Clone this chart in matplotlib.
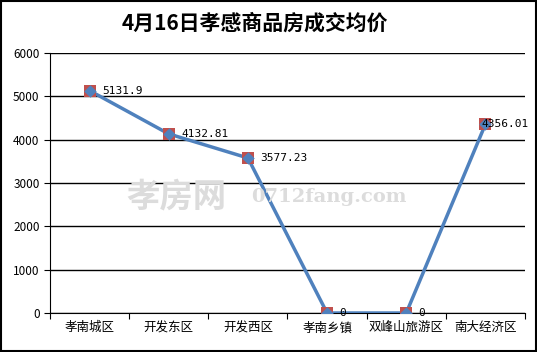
import matplotlib
matplotlib.use("Agg")
import matplotlib.pyplot as plt
from matplotlib.patches import Rectangle

plt.rcParams["font.family"] = ["Noto Sans CJK SC", "DejaVu Sans"]

# ── data ──────────────────────────────────────────────────────────────────────
districts = ["孝南城区", "开发东区", "开发西区", "孝南乡镇", "双峰山旅游区", "南大经济区"]
prices = [5131.9, 4132.81, 3577.23, 0, 0, 4356.01]
price_labels = ["5131.9", "4132.81", "3577.23", "0", "0", "4356.01"]
y_ticks = [0, 1000, 2000, 3000, 4000, 5000, 6000]

BLUE = "#4F81BD"
RED = "#C0504D"

fig = plt.figure(figsize=(5.37, 3.52), dpi=100)
ax = fig.add_axes([50 / 537, 1 - 313 / 352, 475 / 537, 260 / 352])

x = list(range(len(districts)))
ax.plot(x, prices, color=BLUE, linewidth=2.5, zorder=3)
ax.scatter(x, prices, marker="s", s=75, color=RED, zorder=4, linewidths=0)
ax.scatter(x, prices, marker="D", s=40, color=BLUE, zorder=5, linewidths=0)

for i, (xi, v, lab) in enumerate(zip(x, prices, price_labels)):
    dx = -3 if i == len(x) - 1 else 9   # last label sits on its marker
    ax.annotate(lab, (xi, v), textcoords="offset points", xytext=(dx, 0),
                va="center", ha="left", fontsize=8, color="black",
                family=["DejaVu Sans Mono"], zorder=6)

ax.set_xlim(-0.5, len(districts) - 0.5)
ax.set_ylim(0, 6000)
ax.set_yticks(y_ticks)
ax.set_yticklabels([str(t) for t in y_ticks], fontsize=8.5)
ax.set_xticks([i - 0.5 for i in range(len(districts) + 1)])
ax.set_xticklabels([])
ax.set_xticks(x, minor=True)
ax.set_xticklabels(districts, minor=True, fontsize=9)
ax.tick_params(axis="x", which="minor", length=0, pad=6)
ax.tick_params(axis="x", which="major", length=4, direction="out", color="black")
ax.tick_params(axis="y", length=4, direction="out", color="black")

ax.yaxis.grid(True, color="black", linewidth=1)
ax.set_axisbelow(True)
for side in ["top", "right"]:
    ax.spines[side].set_visible(False)
ax.spines["left"].set_color("black")
ax.spines["bottom"].set_color("black")

# watermark
fig.text(0.235, 0.44, "孝房网", fontsize=24, color="#dcdcdc", fontweight="bold",
         ha="left", va="center", zorder=1)
fig.text(0.468, 0.44, "0712fang.com", fontsize=14, color="#dcdcdc", fontweight="bold",
         family=["DejaVu Serif"], ha="left", va="center", zorder=1)

fig.text(0.475, 0.935, "4月16日孝感商品房成交均价", fontsize=15, fontweight="bold",
         ha="center", va="center")

fig.patches.append(Rectangle((0.001, 0.002), 0.997, 0.995, transform=fig.transFigure,
                             fill=False, edgecolor="black", linewidth=1.5))

fig.savefig("out.png", dpi=100)
